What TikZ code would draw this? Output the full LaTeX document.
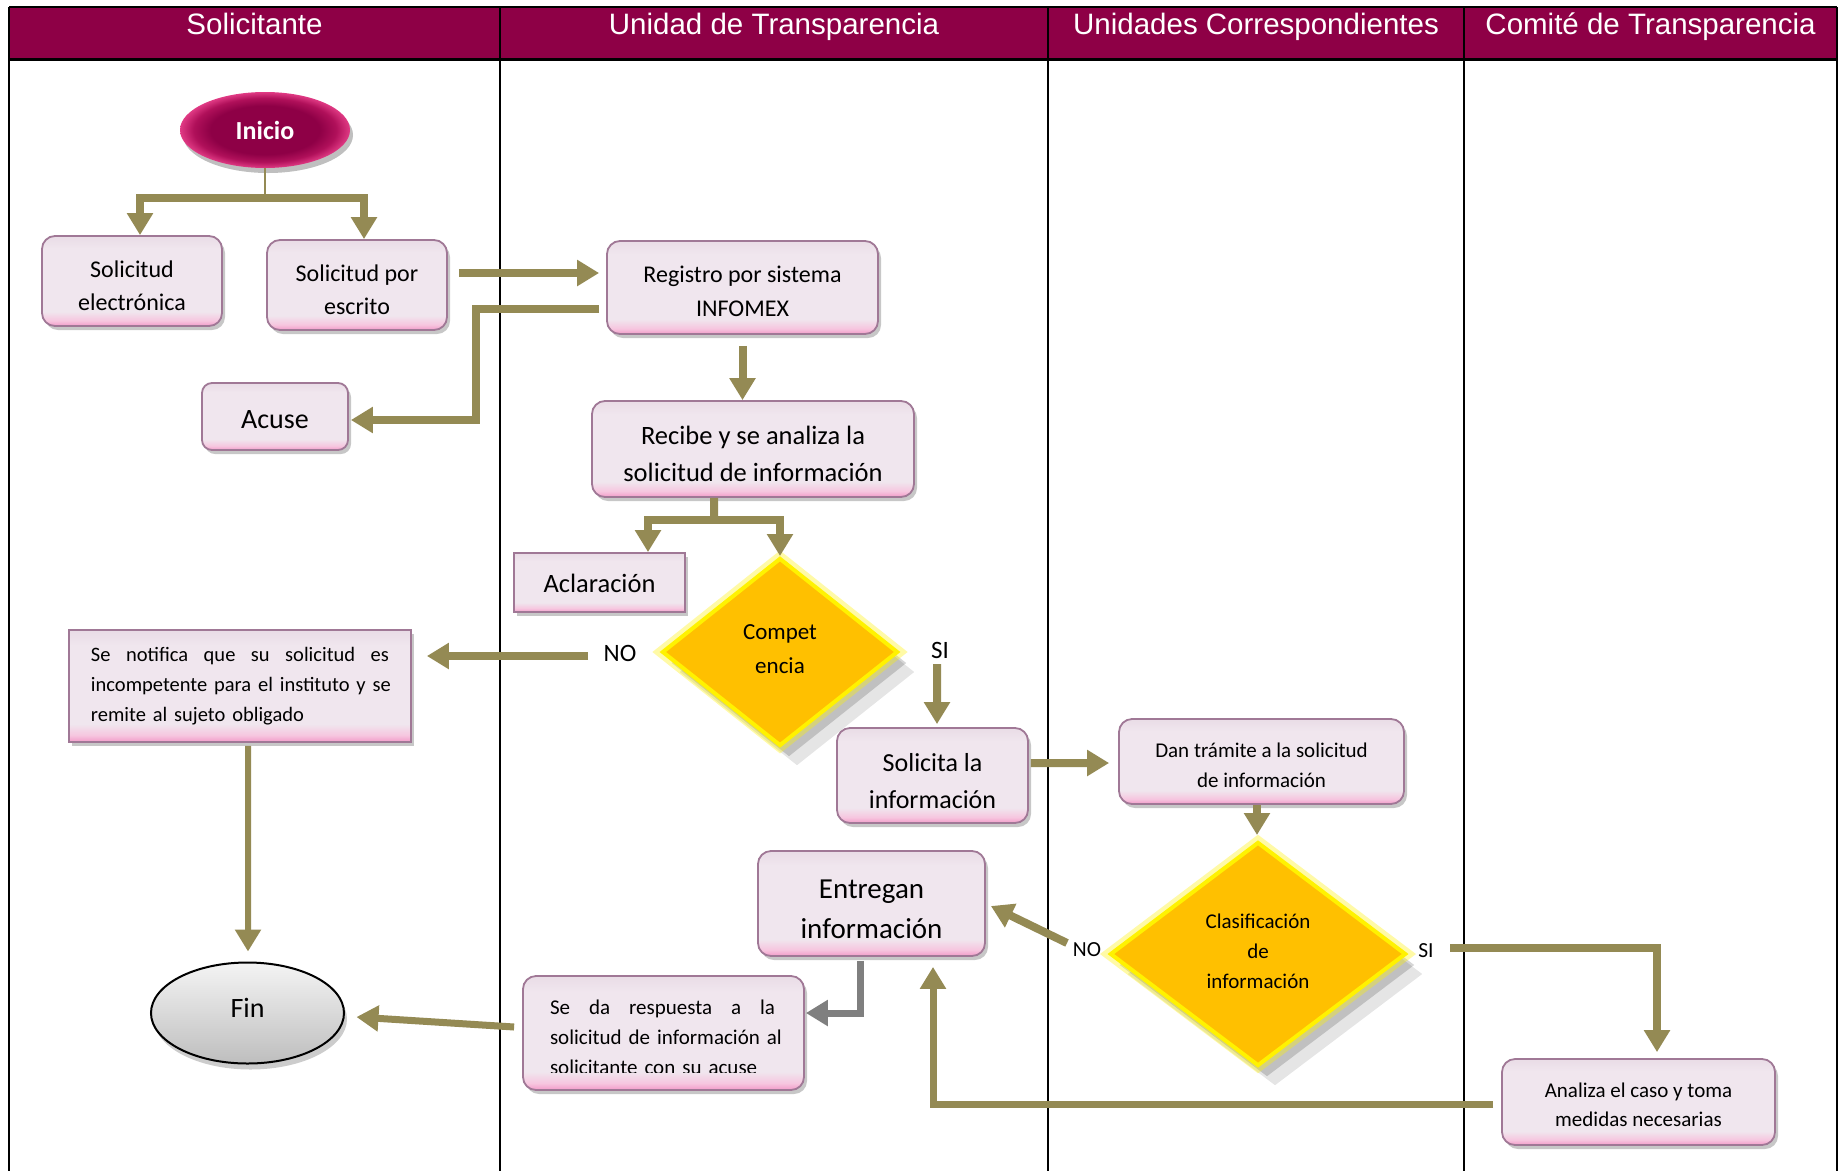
\documentclass[tikz,border=0pt]{standalone}
\usepackage{fontspec}
\setmainfont{Carlito}
\newfontfamily\hdrfont{Liberation Sans}
\usetikzlibrary{arrows.meta,shapes.geometric,shadows}
\definecolor{hdr}{HTML}{8E0046}
\definecolor{olive}{HTML}{948A54}
\definecolor{garrow}{HTML}{7F7F7F}
\definecolor{bxborder}{HTML}{A07896}
\definecolor{bxlav}{HTML}{F0E6EE}
\definecolor{bxtop}{HTML}{E9DCE6}
\definecolor{bxpink}{HTML}{F29AC8}
\definecolor{bxpinkl}{HTML}{F6C6DF}
\definecolor{inidark}{HTML}{8E0046}
\definecolor{inimid}{HTML}{B0105A}
\definecolor{inirim}{HTML}{E03A84}
\definecolor{gold}{HTML}{FFC000}
\definecolor{glow}{HTML}{FFF200}
\definecolor{fintop}{HTML}{F4F4F4}
\definecolor{finbot}{HTML}{BEBEBE}
\pgfdeclareverticalshading{boxshade}{100bp}{color(0bp)=(bxpink); color(25bp)=(bxpink); color(28bp)=(bxpinkl); color(33bp)=(bxlav); color(68bp)=(bxlav); color(75bp)=(bxtop); color(100bp)=(bxtop)}
\pgfdeclareradialshading{inishade}{\pgfpoint{0bp}{0bp}}{color(0bp)=(inidark); color(16bp)=(inidark); color(21bp)=(inimid); color(25bp)=(inirim); color(50bp)=(inirim)}
\newcommand{\upstrut}[1]{\rule{0pt}{#1}}
\newcommand{\dnstrut}[1]{\rule[-#1]{0pt}{#1}}
\newcommand{\jline}[2]{\leavevmode\hbox to #1{#2}}
\tikzset{
  lane/.style={draw=black, line width=2bp},
  hdrtxt/.style={text=white, font=\hdrfont\fontsize{29.5bp}{31bp}\selectfont, anchor=base, inner sep=0pt},
  bx/.style={draw=bxborder, line width=1.8bp, rounded corners=13bp, shade, shading=boxshade,
     drop shadow={shadow xshift=3bp, shadow yshift=-4bp, opacity=.22, fill=black},
     inner sep=0pt, align=center, text=black},
  sqbx/.style={bx, rounded corners=0bp},
  txt/.style={inner sep=0pt, text=black},
  arr/.style={draw=olive, line width=8bp, -{Triangle[width=25bp,length=22bp]}},
  bar/.style={draw=olive, line width=8bp},
  thinarr/.style={arr, line width=6bp},
  garr/.style={arr, draw=garrow, line width=7bp},
  lblbig/.style={inner sep=0pt, font=\fontsize{25bp}{28bp}\selectfont},
  lblsm/.style={inner sep=0pt, font=\fontsize{21.5bp}{24bp}\selectfont},
  dia/.style={diamond, inner sep=0pt, align=center, fill=gold, draw=glow, line width=4bp,
     drop shadow={shadow xshift=9bp, shadow yshift=-11bp, opacity=.16, fill=black},
     drop shadow={shadow xshift=17bp, shadow yshift=-20bp, opacity=.10, fill=black},
     preaction={draw=glow, line width=13bp, opacity=.35}},
}
\begin{document}
\begin{tikzpicture}[x=1bp,y=-1bp]
\useasboundingbox (0,0) rectangle (1844,1171);
\fill[white] (0,0) rectangle (1844,1171);

% header and lanes
\fill[hdr] (9,7) rectangle (1837,59);
\draw[lane] (9,7) -- (1837,7);
\draw[lane, line width=3bp] (9,59) -- (1837,59);
\foreach \x in {9,500,1048,1464,1837} \draw[lane] (\x,7) -- (\x,1171);
\node[hdrtxt] (h1) at (254.5,34) {Solicitante};
\node[hdrtxt] (h2) at (774,34) {Unidad de Transparencia};
\node[hdrtxt] (h3) at (1256,34) {Unidades Correspondientes};
\node[hdrtxt] (h4) at (1650.5,34) {Comité de Transparencia};

% nodes
\node[ellipse, minimum width=170bp, minimum height=76bp, inner sep=0pt, shade, shading=inishade,
      drop shadow={shadow xshift=3bp, shadow yshift=-5bp, opacity=.25, fill=black},
      text=white, font=\bfseries\fontsize{26bp}{28bp}\selectfont] (ini) at (265,130) {Inicio};

\node[bx, minimum width=180bp, minimum height=90bp, font=\fontsize{24bp}{33bp}\selectfont] (sole) at (132,281) {\upstrut{27bp}Solicitud\\electrónica};
\node[bx, minimum width=180bp, minimum height=90bp, font=\fontsize{24bp}{33bp}\selectfont] (sold) at (357,285) {\upstrut{27bp}Solicitud por\\escrito};
\node[bx, minimum width=271bp, minimum height=93bp, font=\fontsize{24bp}{34bp}\selectfont] (reg) at (742.5,287.5) {\upstrut{24bp}Registro por sistema\\INFOMEX};
\node[bx, minimum width=146bp, minimum height=67bp, rounded corners=10bp, font=\fontsize{28bp}{30bp}\selectfont] (acuse) at (275,416.5) {\upstrut{25bp}Acuse};
\node[bx, minimum width=322bp, minimum height=96bp, font=\fontsize{26.5bp}{37bp}\selectfont] (recibe) at (753,449) {\upstrut{29bp}Recibe y se analiza la\\solicitud de información};
\node[sqbx, minimum width=171bp, minimum height=59bp, font=\fontsize{26.5bp}{30bp}\selectfont] (acl) at (599.5,582.5) {\upstrut{21bp}Aclaración};

\node[dia, minimum width=236bp, minimum height=188bp, font=\fontsize{23bp}{34bp}\selectfont] (comp) at (780,652) {Compet\\encia\dnstrut{5bp}};
\node[lblbig] (no1) at (620,653) {NO};
\node[lblbig] (si1) at (940,650) {SI};

\node[sqbx, minimum width=342bp, minimum height=112bp, text width=298bp, align=left,
      font=\fontsize{20.5bp}{30bp}\selectfont] (notif) at (240,686)
  {\jline{298bp}{Se\hfill\ notifica\hfill\ que\hfill\ su\hfill\ solicitud\hfill\ es}\\\jline{298bp}{incompetente para el instituto y\hfill\ se}\\remite al sujeto obligado};

\node[ellipse, minimum width=193bp, minimum height=101bp, inner sep=0pt, draw=black, line width=2bp,
      top color=fintop, bottom color=finbot,
      drop shadow={shadow xshift=3bp, shadow yshift=-6bp, opacity=.2, fill=black},
      font=\fontsize{28bp}{30bp}\selectfont] (fin) at (247.5,1013) {Fin\dnstrut{10bp}};

\node[bx, minimum width=191bp, minimum height=95bp] (solic) at (932.5,775.5) {};
\begin{scope}
  \clip (solic.north west) rectangle ([shift={(0,-15.5)}]solic.south east);
  \node[txt, align=center, font=\fontsize{26bp}{37bp}\selectfont] (solict) at (932.5,781) {Solicita la\\información};
\end{scope}

\node[bx, minimum width=285bp, minimum height=85bp, font=\fontsize{21bp}{30bp}\selectfont] (dan) at (1261.5,761.5) {\upstrut{22bp}Dan trámite a la solicitud\\de información};

\node[dia, minimum width=296bp, minimum height=224bp, font=\fontsize{21bp}{30bp}\selectfont] (clas) at (1258,954) {Clasificación\\de\\información\dnstrut{5bp}};
\node[lblsm] (no2) at (1087,950) {NO};
\node[lblsm] (si2) at (1426,951) {SI};

\node[bx, minimum width=227bp, minimum height=105bp, font=\fontsize{29bp}{40bp}\selectfont] (entregan) at (871.5,903.5) {\upstrut{30bp}Entregan\\información};

\node[bx, minimum width=281bp, minimum height=114bp] (seda) at (663.5,1033) {};
\begin{scope}
  \clip (seda.north west) rectangle ([shift={(0,-18)}]seda.south east);
  \node[txt, text width=225bp, align=left, font=\fontsize{21bp}{30bp}\selectfont] (sedat) at (662.5,1037.5)
    {\jline{225bp}{Se\hfill\ da\hfill\ respuesta\hfill\ a\hfill\ la}\\\jline{225bp}{solicitud de información\hfill\ al}\\solicitante con su acuse};
\end{scope}

\node[bx, minimum width=273bp, minimum height=86bp, font=\fontsize{21bp}{29bp}\selectfont] (analiza) at (1638.5,1102) {\upstrut{21bp}Analiza el caso y toma\\medidas necesarias};

% connectors
\coordinate (sp1) at (265,198);
\draw[draw=olive, line width=2bp] (ini.south) -- (sp1);
\draw[arr] (sp1) -| ([xshift=8bp]sole.north);
\draw[arr] (sp1) -| ([xshift=7bp]sold.north);

\draw[arr] ([shift={(11,-12)}]sold.east) -- ([shift={(-7,-14.5)}]reg.west);
\draw[arr] ([shift={(-7,21.5)}]reg.west) -| ([shift={(127,3.5)}]acuse.east) -- ([shift={(2,3.5)}]acuse.east);
\draw[arr] ([shift={(0,11)}]reg.south) -- (reg.south |- recibe.north);

\coordinate (sp2) at (714,520);
\draw[bar] ([xshift=-39bp]recibe.south) -- (sp2);
\draw[arr] (sp2) -| ([xshift=48.5bp]acl.north);
\draw[arr] (sp2) -| (comp.north);

\draw[arr] ([shift={(-32,3)}]no1.center) -- ([shift={(15,-30)}]notif.east);
\draw[arr] ([shift={(-3,14)}]si1.center) -- ([shift={(4.5,-3)}]solic.north);
\draw[thinarr] ([shift={(8,3)}]notif.south) -- ([shift={(0.5,-10)}]fin.north);

\draw[arr] ([shift={(2,-12.5)}]solic.east) -- ([shift={(-9,1.5)}]dan.west);
\draw[arr] ([shift={(-4.5,0)}]dan.south) -- ([shift={(-1,-5)}]clas.north);

\draw[arr] ([shift={(-20,-7)}]no2.center) -- ([shift={(5,2.5)}]entregan.east);
\draw[arr] ([shift={(24,-3)}]si2.center) -| ([shift={(18.5,-6)}]analiza.north);
\draw[arr, line width=7bp] ([shift={(-8,2)}]analiza.west) -| ([shift={(61.5,10)}]entregan.south);

\draw[garr] ([shift={(-11.5,4)}]entregan.south) |- ([shift={(1,-20)}]seda.east);
\draw[arr, line width=7bp] ([shift={(-8,-6)}]seda.west) -- ([shift={(11.5,4)}]fin.east);
\end{tikzpicture}
\end{document}
